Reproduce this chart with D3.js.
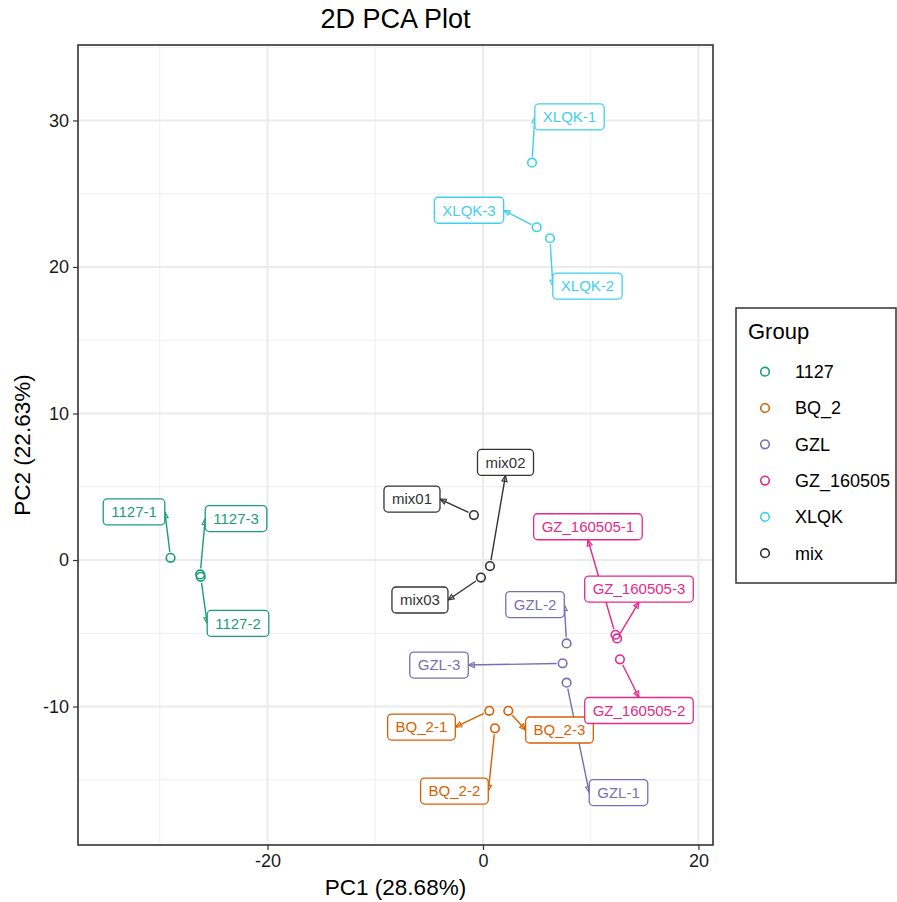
<!DOCTYPE html>
<html>
<head>
<meta charset="utf-8">
<script src="https://cdn.jsdelivr.net/npm/d3@7"></script>
<style>
  html, body { margin: 0; padding: 0; background: #fff; }
  svg { display: block; font-family: "Liberation Sans", Arial, sans-serif; }
</style>
</head>
<body>
<svg id="chart" width="897" height="902"></svg>
<script>
// Sample names, groups and PCA scores
const samples = ["1127-1","1127-2","1127-3","BQ_2-1","BQ_2-2","BQ_2-3","GZL-1","GZL-2","GZL-3",
  "GZ_160505-1","GZ_160505-2","GZ_160505-3","XLQK-1","XLQK-2","XLQK-3","mix01","mix02","mix03"];
const sampleGroup = ["1127","1127","1127","BQ_2","BQ_2","BQ_2","GZL","GZL","GZL",
  "GZ_160505","GZ_160505","GZ_160505","XLQK","XLQK","XLQK","mix","mix","mix"];
const pc1 = [-29.0,-26.2,-26.25, 0.59, 1.11, 2.35, 7.76, 7.76, 7.39,
  12.30, 12.71, 12.45, 4.55, 6.22, 4.98, -0.84, 0.65, -0.19];
const pc2 = [0.15,-1.15,-0.98,-10.29,-11.49,-10.29,-8.37,-5.69,-7.05,
  -5.10,-6.78,-5.35, 27.12, 21.96, 22.71, 3.07,-0.41,-1.20];
// Repelled label centres (PC units)
const labelPC1 = [-32.39,-22.74,-22.92,-5.71,-2.65,7.10,12.58,4.83,-4.08,
  9.74,14.48,14.48, 8.03, 9.70,-1.30,-6.59, 2.09,-5.85];
const labelPC2 = [3.28,-4.33,2.83,-11.40,-15.77,-11.60,-15.87,-3.04,-7.17,
  2.27,-10.27,-1.98, 30.24,18.70,23.87, 4.16, 6.66,-2.73];

const groups = ["1127","BQ_2","GZL","GZ_160505","XLQK","mix"];
const groupColors = ["#1B9E77","#D95F02","#7570B3","#E7298A","#3FCFEF","#333333"];

const xTicks = [-20, 0, 20];
const yTicks = [-10, 0, 10, 20, 30];
const xMinor = [-30, -10, 10];
const yMinor = [-15, -5, 5, 15, 25, 35];

const svg = d3.select("#chart");
const panel = { left: 78, right: 713, top: 45, bottom: 845 };

const x = d3.scaleLinear().domain([-37.59, 21.35]).range([panel.left, panel.right]);
const y = d3.scaleLinear().domain([-19.45, 35.15]).range([panel.bottom, panel.top]);
const color = d3.scaleOrdinal().domain(groups).range(groupColors);

// panel background and grid
svg.append("rect").attr("x", panel.left).attr("y", panel.top)
  .attr("width", panel.right - panel.left).attr("height", panel.bottom - panel.top)
  .attr("fill", "#fff");

const grid = svg.append("g");
grid.selectAll(".vminor").data(xMinor).join("line")
  .attr("x1", d => x(d)).attr("x2", d => x(d)).attr("y1", panel.top).attr("y2", panel.bottom)
  .attr("stroke", "#EFEFEF").attr("stroke-width", 1);
grid.selectAll(".hminor").data(yMinor.filter(v => y(v) > panel.top)).join("line")
  .attr("y1", d => y(d)).attr("y2", d => y(d)).attr("x1", panel.left).attr("x2", panel.right)
  .attr("stroke", "#EFEFEF").attr("stroke-width", 1);
grid.selectAll(".vmajor").data(xTicks).join("line")
  .attr("x1", d => x(d)).attr("x2", d => x(d)).attr("y1", panel.top).attr("y2", panel.bottom)
  .attr("stroke", "#EBEBEB").attr("stroke-width", 2);
grid.selectAll(".hmajor").data(yTicks).join("line")
  .attr("y1", d => y(d)).attr("y2", d => y(d)).attr("x1", panel.left).attr("x2", panel.right)
  .attr("stroke", "#EBEBEB").attr("stroke-width", 2);

// axes (plain hyphen for negative numbers)
const fmt = d => String(d);
const xAxis = svg.append("g").attr("transform", `translate(0,${panel.bottom})`)
  .call(d3.axisBottom(x).tickValues(xTicks).tickSize(5).tickPadding(4).tickFormat(fmt));
const yAxis = svg.append("g").attr("transform", `translate(${panel.left},0)`)
  .call(d3.axisLeft(y).tickValues(yTicks).tickSize(5).tickPadding(4).tickFormat(fmt));
[xAxis, yAxis].forEach(a => {
  a.select(".domain").remove();
  a.selectAll(".tick line").attr("stroke", "#333").attr("stroke-width", 1.2);
  a.selectAll(".tick text").attr("fill", "#1a1a1a").style("font-size", "18px")
    .style("font-family", "'Liberation Sans', Arial, sans-serif");
});

// label geometry
const fontSize = 15, padX = 8, padY = 5.5;
const tmp = svg.append("text").style("font-size", fontSize + "px");
const items = samples.map((s, i) => {
  tmp.text(s);
  const w = tmp.node().getComputedTextLength() + 2 * padX;
  const h = fontSize + 2 * padY;
  const cx = x(labelPC1[i]), cy = y(labelPC2[i]);
  return { name: s, group: sampleGroup[i], px: x(pc1[i]), py: y(pc2[i]),
    cx, cy, w, h, x0: cx - w / 2, y0: cy - h / 2 };
});
tmp.remove();

// segment end: middle of the box side facing the point
function segmentEnd(d) {
  const x1 = d.x0 + d.w, y1 = d.y0 + d.h;
  if (d.px < d.x0) return [d.x0, d.cy];
  if (d.px > x1) return [x1, d.cy];
  if (d.py > y1) return [d.cx, y1];
  return [d.cx, d.y0];
}

// segments from points to labels with open arrowheads
const segs = svg.append("g");
items.forEach(d => {
  const [tx, ty] = segmentEnd(d);
  const dx = tx - d.px, dy = ty - d.py, len = Math.hypot(dx, dy);
  if (len < 10) return;
  const ux = dx / len, uy = dy / len;
  const sx = d.px + ux * 6, sy = d.py + uy * 6;
  const c = color(d.group);
  segs.append("line").attr("x1", sx).attr("y1", sy).attr("x2", tx).attr("y2", ty)
    .attr("stroke", c).attr("stroke-width", 1.4);
  const al = 6, aw = 2.6;
  const bx = tx - ux * al, by = ty - uy * al;
  segs.append("path")
    .attr("d", `M${tx},${ty}L${bx - uy * aw},${by + ux * aw}L${bx + uy * aw},${by - ux * aw}Z`)
    .attr("fill", "none").attr("stroke", c).attr("stroke-width", 1.1);
});

// points
svg.append("g").selectAll("circle").data(items).join("circle")
  .attr("cx", d => d.px).attr("cy", d => d.py).attr("r", 4.3)
  .attr("fill", "none").attr("stroke", d => color(d.group)).attr("stroke-width", 1.6);

// labels
const lab = svg.append("g").selectAll("g").data(items).join("g");
lab.append("rect")
  .attr("x", d => d.x0).attr("y", d => d.y0).attr("width", d => d.w).attr("height", d => d.h)
  .attr("rx", 4).attr("fill", "#fff").attr("stroke", d => color(d.group)).attr("stroke-width", 1.3);
lab.append("text")
  .attr("x", d => d.cx).attr("y", d => d.cy).attr("dy", "0.35em").attr("text-anchor", "middle")
  .style("font-size", fontSize + "px").attr("fill", d => color(d.group))
  .text(d => d.name);

// panel border
svg.append("rect").attr("x", panel.left).attr("y", panel.top)
  .attr("width", panel.right - panel.left).attr("height", panel.bottom - panel.top)
  .attr("fill", "none").attr("stroke", "#333").attr("stroke-width", 1.6);

// titles
svg.append("text").attr("x", (panel.left + panel.right) / 2).attr("y", 28)
  .attr("text-anchor", "middle").style("font-size", "27px").attr("fill", "#000")
  .text("2D PCA Plot");
svg.append("text").attr("x", (panel.left + panel.right) / 2).attr("y", 895)
  .attr("text-anchor", "middle").style("font-size", "22.5px").attr("fill", "#000")
  .text("PC1 (28.68%)");
svg.append("text")
  .attr("transform", `translate(30,${(panel.top + panel.bottom) / 2}) rotate(-90)`)
  .attr("text-anchor", "middle").style("font-size", "22.5px").attr("fill", "#000")
  .text("PC2 (22.63%)");

// legend
const lg = svg.append("g").attr("transform", "translate(736,308)");
lg.append("rect").attr("width", 160).attr("height", 275)
  .attr("fill", "#fff").attr("stroke", "#333").attr("stroke-width", 1.5);
lg.append("text").attr("x", 12).attr("y", 31).style("font-size", "22px").attr("fill", "#000").text("Group");
const li = lg.selectAll(".li").data(groups).join("g")
  .attr("transform", (d, i) => `translate(0,${63.7 + i * 36.3})`);
li.append("circle").attr("cx", 29).attr("cy", 0).attr("r", 4.3)
  .attr("fill", "none").attr("stroke", d => color(d)).attr("stroke-width", 1.6);
li.append("text").attr("x", 59).attr("y", 0).attr("dy", "0.35em")
  .style("font-size", "18px").attr("fill", "#000").text(d => d);
</script>
</body>
</html>
